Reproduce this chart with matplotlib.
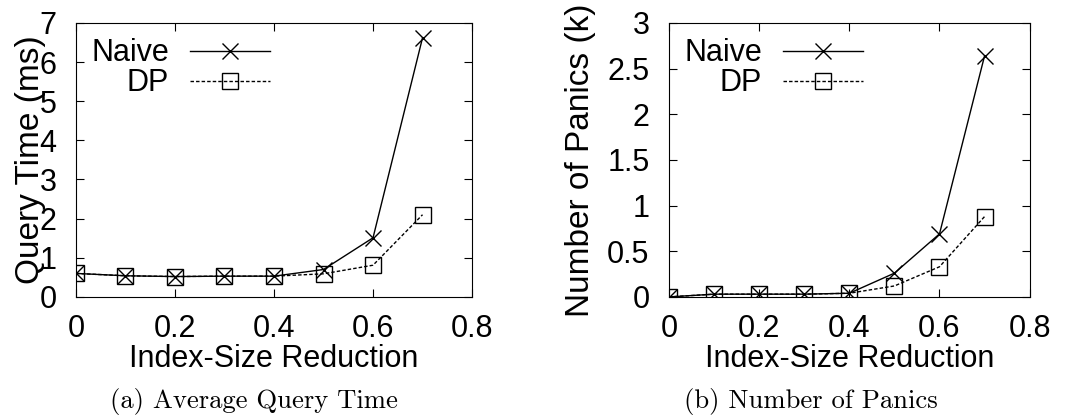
import matplotlib
matplotlib.use("Agg")
import matplotlib.pyplot as plt

x = [0, 0.1, 0.2, 0.3, 0.4, 0.5, 0.6, 0.7]
time_naive = [0.60, 0.54, 0.52, 0.53, 0.53, 0.70, 1.51, 6.62]
time_dp = [0.60, 0.54, 0.52, 0.53, 0.53, 0.59, 0.81, 2.10]
panic_naive = [0.0, 0.03, 0.03, 0.03, 0.04, 0.26, 0.69, 2.64]
panic_dp = [0.0, 0.03, 0.03, 0.03, 0.04, 0.12, 0.33, 0.88]
xticks = [0, 0.2, 0.4, 0.6, 0.8]

plt.rcParams['font.family'] = ['Liberation Sans', 'DejaVu Sans']

fig = plt.figure(figsize=(10.67, 4.17), dpi=100)
ax1 = fig.add_axes([0.0712, 0.288, 0.3712, 0.657])
ax2 = fig.add_axes([0.627, 0.288, 0.338, 0.657])

def draw(ax, naive, dp, ymax, ystep, ylabel, yfmt, ylpad):
    ax.plot(x, naive, color='black', lw=1, marker='x', ms=12, mew=1,
            label='Naive')
    ax.plot(x, dp, color='black', lw=1, ls=(0, (2.5, 1.5)), marker='s', ms=11,
            mew=1, mfc='none', label='DP')
    ax.set_xlim(0, 0.8)
    ax.set_ylim(0, ymax)
    ax.set_xticks(xticks)
    ax.set_xticklabels([('%g' % t) for t in xticks])
    n = int(round(ymax / ystep))
    yt = [i * ystep for i in range(n + 1)]
    ax.set_yticks(yt)
    ax.set_yticklabels([yfmt(t) for t in yt])
    ax.tick_params(direction='in', top=True, right=True, length=6,
                   labelsize=22)
    ax.tick_params(axis='x', pad=12)
    ax.tick_params(axis='y', pad=14)
    ax.set_xlabel('Index-Size Reduction', fontsize=22, labelpad=0)
    ax.set_ylabel(ylabel, fontsize=24, labelpad=ylpad)
    leg = ax.legend(loc='upper left', fontsize=22, frameon=False,
                    markerfirst=False, handlelength=2.6, handletextpad=0.7,
                    borderaxespad=0.1, labelspacing=0.0)
    for t in leg.get_texts():
        t.set_ha('right')

draw(ax1, time_naive, time_dp, 7, 1, 'Query Time (ms)', lambda t: '%d' % t, -5)
draw(ax2, panic_naive, panic_dp, 3, 0.5, 'Number of Panics (k)',
     lambda t: '%g' % t, 8)

fig.text(0.238, 0.036, '(a) Average Query Time', ha='center', va='center',
         fontsize=19.2, family='cmr10')
fig.text(0.760, 0.036, '(b) Number of Panics', ha='center', va='center',
         fontsize=19.2, family='cmr10')

fig.savefig('out.png', dpi=100)
